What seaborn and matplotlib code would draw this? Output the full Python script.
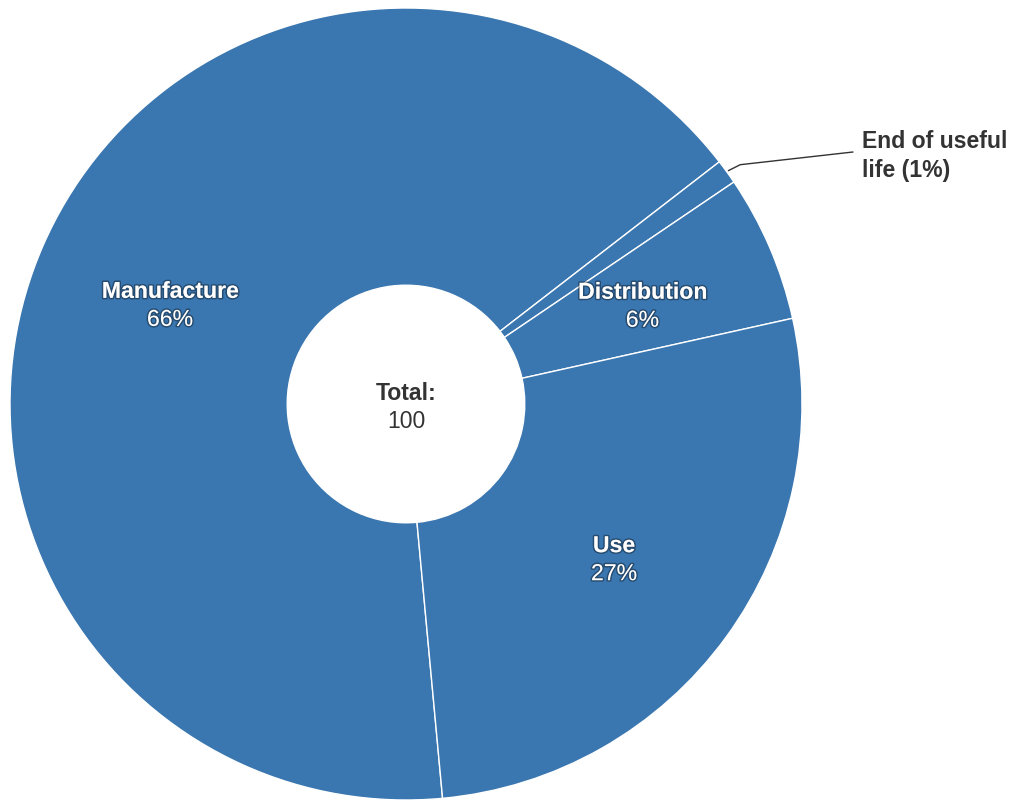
import numpy as np
import matplotlib
matplotlib.use("Agg")
import matplotlib.pyplot as plt
import matplotlib.patheffects as pe
import seaborn as sns

categories = ["Manufacture", "End of useful life", "Distribution", "Use"]
values = [66, 1, 6, 27]
pct_labels = ["66%", "1%", "6%", "27%"]
total_label = "Total:"
total_value = "100"

sns.set_theme(style="white")
plt.rcParams['font.family'] = ['Liberation Sans', 'DejaVu Sans']

fig = plt.figure(figsize=(10.10, 8.01), dpi=100)
ax = fig.add_axes([0, 0, 1, 1])
ax.set_axis_off()

blue = "#3a76af"
wedges, _ = ax.pie(values, startangle=-84.7, counterclock=False,
                   colors=[blue] * len(values), radius=1.0,
                   wedgeprops=dict(width=0.70, edgecolor="white", linewidth=1.0))

ax.set_aspect('auto')
R = 396.0
ax.set_xlim(-406 / R, (1010 - 406) / R)
ax.set_ylim(-(801 - 404) / R, 404 / R)

fs = 16.6
shadow = [pe.withStroke(linewidth=2.2, foreground=(0, 0, 0, 0.35))]
dy = 14 / R
off = -4 / R
for w, name, pct in zip(wedges, categories, pct_labels):
    mid = np.deg2rad((w.theta1 + w.theta2) / 2)
    if name == "End of useful life":
        x0, y0 = 1.005 * np.cos(mid), 1.005 * np.sin(mid)
        xe, ye = (853 - 406) / R, (404 - 152) / R
        ax.plot([x0, x0 + 0.03, xe], [y0, y0 + 0.015, ye], color="#333333", lw=1.0)
        ax.text((862 - 406) / R, ye + off, f"{name.replace('useful ', 'useful\n')} ({pct})",
                ha="left", va="center", fontsize=fs, fontweight="bold",
                color="#333333", linespacing=1.35)
        continue
    r = 0.65
    cx, cy = r * np.cos(mid), r * np.sin(mid) + off
    ax.text(cx, cy + dy, name, ha="center", va="center", fontsize=fs,
            fontweight="bold", color="white", path_effects=shadow)
    ax.text(cx, cy - dy, pct, ha="center", va="center", fontsize=fs,
            color="white", path_effects=shadow)

ax.text(0, dy + off, total_label, ha="center", va="center", fontsize=fs,
        fontweight="bold", color="#333333")
ax.text(0, -dy + off, total_value, ha="center", va="center", fontsize=fs,
        color="#333333")

fig.savefig("out.png", dpi=100)
